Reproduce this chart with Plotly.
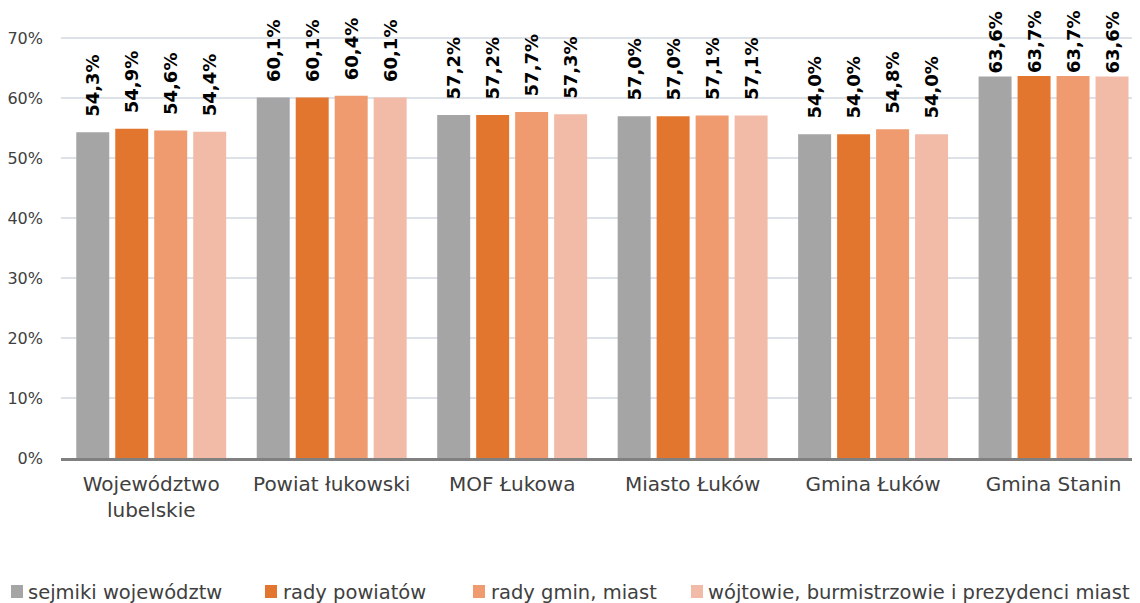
import plotly.graph_objects as go

categories = ["Województwo<br>lubelskie", "Powiat łukowski", "MOF Łukowa",
              "Miasto Łuków", "Gmina Łuków", "Gmina Stanin"]
series_names = ["sejmiki województw", "rady powiatów", "rady gmin, miast",
                "wójtowie, burmistrzowie i prezydenci miast"]
sejmiki = [54.3, 60.1, 57.2, 57.0, 54.0, 63.6]
powiaty = [54.9, 60.1, 57.2, 57.0, 54.0, 63.7]
gminy = [54.6, 60.4, 57.7, 57.1, 54.8, 63.7]
wojtowie = [54.4, 60.1, 57.3, 57.1, 54.0, 63.6]
y_ticks = [0, 10, 20, 30, 40, 50, 60, 70]

series_values = [sejmiki, powiaty, gminy, wojtowie]
colors = ["#a5a5a5", "#e3762e", "#f09a70", "#f1bba7"]
FONT = "DejaVu Sans"
TEXT_COLOR = "#404040"
# extra gap (non-breaking spaces) between bar top and its label, per category
label_pad = ["\u00a0\u00a0"] * 5 + [""]

def fmt(v):
    return f"{v:.1f}".replace(".", ",") + "%"

fig = go.Figure()
for name, vals, col in zip(series_names, series_values, colors):
    fig.add_trace(go.Bar(
        x=categories, y=vals, name=name,
        marker=dict(color=col, line=dict(width=0)),
        text=[p + fmt(v) for p, v in zip(label_pad, vals)],
        textposition="outside", textangle=-90,
        textfont=dict(family=FONT, size=18, color="#000000", weight="bold"),
        cliponaxis=False, constraintext="none",
        showlegend=False, hoverinfo="skip",
    ))

# page body has an 8px margin, so the figure is 8px smaller than the window
fig.update_layout(
    width=1132, height=595,
    margin=dict(l=53, r=0, t=29, b=145, pad=0),
    paper_bgcolor="white", plot_bgcolor="white",
    barmode="group", bargap=0.136, bargroupgap=0.154,
    font=dict(family=FONT, color=TEXT_COLOR),
    xaxis=dict(
        range=[-0.5, 5.479], showgrid=False, zeroline=False,
        showline=True, linecolor="#808080", linewidth=3,
        ticks="", tickfont=dict(size=20, color=TEXT_COLOR),
        ticklabelstandoff=6,
    ),
    yaxis=dict(
        range=[0, 70.2], tickvals=y_ticks, ticktext=[f"{t}%" for t in y_ticks],
        showgrid=True, gridcolor="#dde1e8", gridwidth=1.5,
        zeroline=False, showline=False, ticks="",
        tickfont=dict(size=16, color=TEXT_COLOR),
        ticklabelstandoff=17,
    ),
)

# Legend (drawn manually with annotations + small squares)
sq_offsets = [-50, 204, 412, 630]
txt_offsets = [-34, 221, 429, 646]
for name, col, sx, tx in zip(series_names, colors, sq_offsets, txt_offsets):
    fig.add_shape(type="rect", xref="paper", yref="paper",
                  xsizemode="pixel", ysizemode="pixel",
                  xanchor=0, yanchor=0,
                  x0=sx, x1=sx + 12, y0=-140, y1=-127,
                  fillcolor=col, line=dict(width=0))
    fig.add_annotation(x=0, y=0, xref="paper", yref="paper",
                       xanchor="left", yanchor="middle",
                       xshift=tx, yshift=-134, showarrow=False, borderpad=0,
                       text=name, font=dict(family=FONT, size=19.5, color=TEXT_COLOR))

fig.write_html("out.html")
